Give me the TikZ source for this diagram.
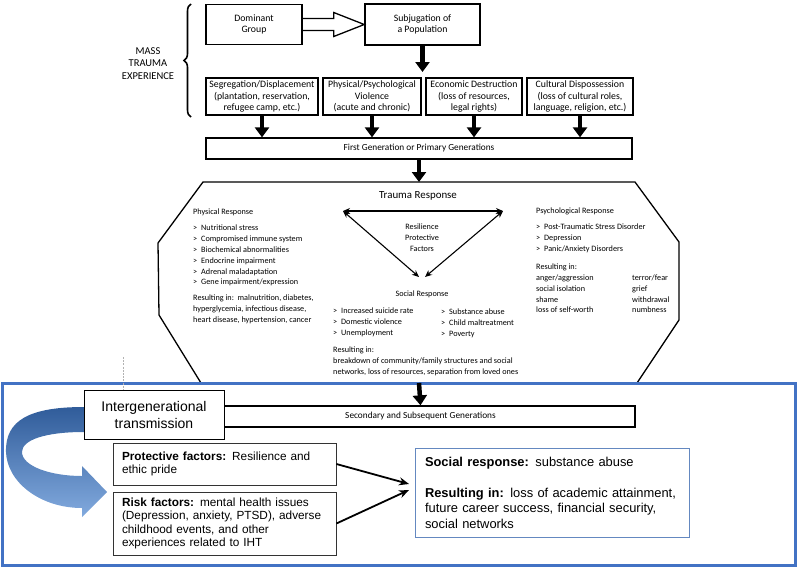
\documentclass[tikz,border=0pt]{standalone}
\usepackage{fontspec}
\setmainfont{Carlito}
\newfontfamily\arialfont{Liberation Sans}
\usetikzlibrary{arrows.meta,calc,positioning,decorations.pathreplacing}
\definecolor{frameblue}{RGB}{66,114,196}
\definecolor{ribbondark}{RGB}{48,92,154}
\definecolor{ribbonlight}{RGB}{130,170,222}
\definecolor{socialblue}{RGB}{100,136,192}
\newcommand{\boxfont}{\fontsize{9.8}{11.3}\selectfont}
\newcommand{\genfont}{\fontsize{9.3}{11}\selectfont}
\newcommand{\smallfont}{\fontsize{8.2}{10.9}\selectfont}
\newcommand{\factfont}{\arialfont\fontsize{11.8}{13.6}\selectfont}
\newcommand{\itm}{\makebox[8pt][l]{>}}
\tikzstyle{topbox}=[draw,line width=1.5pt,align=center,inner sep=1pt,minimum height=37pt,font=\boxfont]
\tikzstyle{genbox}=[draw,line width=1.3pt,minimum height=21pt,inner sep=1pt,font=\genfont]
\tikzstyle{fatarrow}=[line width=4.5pt,-{Triangle[width=14pt,length=10pt]}]
\tikzstyle{twoway}=[line width=1.1pt,{Stealth[length=7pt,width=6pt]}-{Stealth[length=7pt,width=6pt]}]
\tikzstyle{listtext}=[anchor=west,align=left,inner sep=0pt,font=\smallfont]
\tikzstyle{factbox}=[draw=black!80,line width=0.8pt,text width=205pt,inner xsep=9pt,align=left,font=\factfont]
\tikzstyle{thinarrow}=[line width=1.8pt,-{Stealth[length=10pt,width=8pt]}]

\begin{document}
\begin{tikzpicture}[x=1pt,y=-1pt]
    \useasboundingbox (0,0) rectangle (800,570);
% mass trauma experience
    \node[align=center,font=\fontsize{10.5}{12.5}\selectfont] (mass) at (148,63.5) {MASS\\TRAUMA\\EXPERIENCE};
    \draw[decorate,decoration={brace,amplitude=7pt},line width=1.6pt] (191,117) -- (191,4);
    \node[topbox,minimum width=96pt,minimum height=40pt] (dom) at (254,24.5) {Dominant\\Group};
    \node[topbox,minimum width=115pt,minimum height=41pt] (subj) at (422.5,24.5) {Subjugation of\\a Population};
    \draw[line width=1.3pt] ($(dom.east)+(0,-6)$) -- ($(dom.east)+(31,-6)$) -- ($(dom.east)+(31,-12)$)
        -- (subj.west) -- ($(dom.east)+(31,12)$) -- ($(dom.east)+(31,6)$) -- ($(dom.east)+(0,6)$);
    \coordinate (split) at (422.5,72);
    \draw[fatarrow] (subj.south) -- (split);
    \node[topbox,minimum width=112pt] (segr) at (262,96.5) {Segregation/Displacement\\(plantation, reservation,\\refugee camp, etc.)};
    \node[topbox,minimum width=98pt] (viol) at (372,96.5) {Physical/Psychological\\Violence\\(acute and chronic)};
    \node[topbox,minimum width=96pt] (econ) at (474,96.5) {Economic Destruction\\(loss of resources,\\legal rights)};
    \node[topbox,minimum width=106pt] (cult) at (580,96.5) {Cultural Dispossession\\(loss of cultural roles,\\language, religion, etc.)};
    \node[genbox,minimum width=426pt] (first) at (419,148.5) {First Generation or Primary Generations};
    \foreach \b in {segr,viol,econ,cult}
        \draw[fatarrow] (\b.south) -- (\b.south |- first.north);
% trauma response
    \coordinate (octtop) at (419,182);
    \draw[fatarrow] (first.south) -- (octtop);
    \draw[line width=1.3pt] (203,182) -- (635,182) -- (679,242) -- (679,320) -- (637,383)
        -- (201,383) -- (159,315) -- (158,243) -- cycle;
    \node[font=\fontsize{10.9}{13}\selectfont] (trauma) at (418,196) {Trauma Response};
    \coordinate (tl) at (343,211);
    \coordinate (tr) at (503,211);
    \coordinate (tbl) at (419,277);
    \coordinate (tbr) at (425,277);
    \draw[twoway] (tl) -- (tr);
    \draw[twoway] (tl) -- (tbl);
    \draw[twoway] (tr) -- (tbr);
    \node[align=center,font=\smallfont] (resil) at (422,238) {Resilience\\Protective\\Factors};
    \node[listtext] (physhead) at (193,212) {Physical Response};
    \node[listtext] (physlist) at (193,255.5) {\itm Nutritional stress\\\itm Compromised immune system\\\itm Biochemical abnormalities\\\itm Endocrine impairment\\\itm Adrenal maladaptation\\\itm Gene impairment/expression};
    \node[listtext] (physres) at (193,309) {Resulting in:\ \ malnutrition, diabetes,\\hyperglycemia, infectious disease,\\heart disease, hypertension, cancer};
    \node[listtext] (psyhead) at (536,211) {Psychological Response};
    \node[listtext] (psylist) at (536,238.7) {\itm Post-Traumatic Stress Disorder\\\itm Depression\\\itm Panic/Anxiety Disorders};
    \node[listtext] (psyres) at (536,267) {Resulting in:};
    \node[listtext] (psyleft) at (536,293.8) {anger/aggression\\social isolation\\shame\\loss of self-worth};
    \node[listtext] (psyright) at (632,293.8) {terror/fear\\grief\\withdrawal\\numbness};
    \node[font=\smallfont] (sochead) at (422,294) {Social Response};
    \node[listtext] (socleft) at (333,322) {\itm Increased suicide rate\\\itm Domestic violence\\\itm Unemployment};
    \node[listtext] (socright) at (441,323.5) {\itm Substance abuse\\\itm Child maltreatment\\\itm Poverty};
    \node[listtext] (socres) at (333,361) {Resulting in:\\breakdown of community/family structures and social\\networks, loss of resources, separation from loved ones};
% intergenerational part
    \draw[frameblue,line width=3pt] (2,383) rectangle (795,565);
    \node[genbox,minimum width=429pt] (second) at (420.5,416.5) {Secondary and Subsequent Generations};
    \coordinate (octbot) at (419,383);
    \draw[fatarrow] (octbot) -- (second.north);
    \shade[top color=ribbondark,bottom color=ribbonlight] (110,407) -- (84,407)
        .. controls (30,407) and (5,420) .. (6,452) .. controls (7,482) and (40,508) .. (82,508)
        -- (82,517) -- (107,492) -- (82,466) -- (82,476)
        .. controls (50,476) and (22,466) .. (22,452) .. controls (22,440) and (45,432) .. (84,432)
        -- (110,432) -- cycle;
    \node[draw,fill=white,line width=0.8pt,align=center,minimum width=140pt,minimum height=49pt,inner sep=1pt,
        font=\arialfont\fontsize{14}{17}\selectfont] (igt) at (154,414.5) {Intergenerational\\transmission};
    \coordinate (guidetop) at (123,357);
    \draw[gray!60,line width=0.6pt,dash pattern=on 2pt off 1.2pt] (guidetop) -- (guidetop |- igt.north);
    \node[factbox,minimum height=42pt] (prot) at (224.5,464) {\textbf{Protective factors:} Resilience and\\ethic pride};
    \node[factbox,minimum height=63pt] (risk) at (224.5,523.5) {\textbf{Risk factors:} mental health issues\\(Depression, anxiety, PTSD), adverse\\childhood events, and other\\experiences related to IHT};
    \node[draw=socialblue,line width=0.8pt,text width=254pt,inner xsep=10pt,minimum height=89pt,align=left,
        font=\arialfont\fontsize{12.9}{15.5}\selectfont] (social) at (552,492.5)
        {\textbf{Social response:} substance abuse\\[15.5pt]\textbf{Resulting in:} loss of academic attainment,\\future career success, financial security,\\social networks};
    \coordinate (meettop) at (409,484);
    \coordinate (meetbot) at (409,490);
    \draw[thinarrow] (prot.east) -- (meettop);
    \draw[thinarrow] (risk.east) -- (meetbot);
\end{tikzpicture}
\end{document}
